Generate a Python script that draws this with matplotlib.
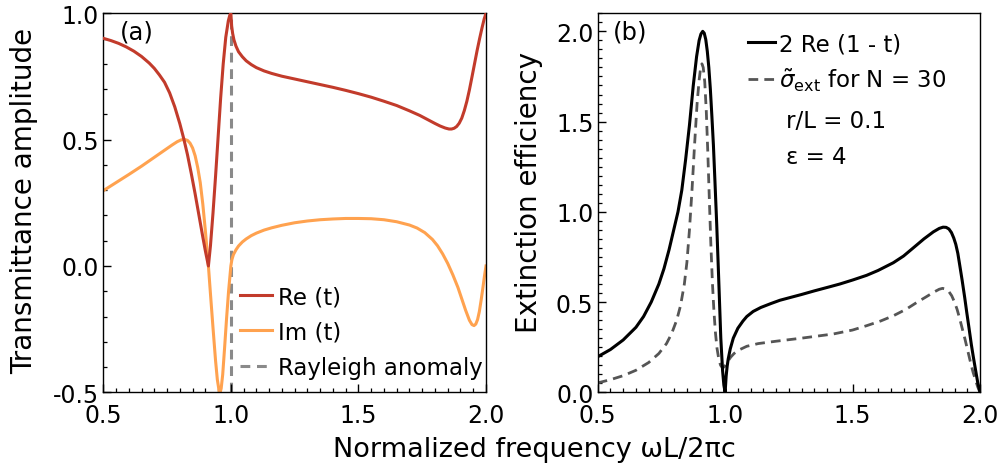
import matplotlib
matplotlib.use("Agg")
import matplotlib.pyplot as plt
from matplotlib.ticker import MultipleLocator

# ---------------- data ----------------
re_x = [0.50, 0.53, 0.56, 0.59, 0.62, 0.65, 0.68, 0.70, 0.72, 0.74, 0.76, 0.78, 0.80, 0.815,
        0.83, 0.845, 0.86, 0.875, 0.89, 0.90, 0.912,
        0.92, 0.93, 0.94, 0.95, 0.96, 0.97, 0.98, 0.99, 0.996, 1.0,
        1.003, 1.007, 1.012, 1.02, 1.03, 1.045, 1.06, 1.08, 1.10, 1.13, 1.16, 1.20, 1.25,
        1.30, 1.35, 1.40, 1.45, 1.50, 1.55, 1.60, 1.65, 1.70, 1.74, 1.77, 1.80, 1.82, 1.84,
        1.855, 1.865, 1.875, 1.885, 1.895, 1.905, 1.915, 1.925, 1.935, 1.945, 1.955, 1.965,
        1.975, 1.985, 1.993, 2.0]
re_y = [0.901, 0.892, 0.881, 0.867, 0.850, 0.829, 0.803, 0.782, 0.756, 0.727, 0.685, 0.630,
        0.563, 0.505, 0.44, 0.365, 0.285, 0.20, 0.115, 0.06, 0.0,
        0.08, 0.21, 0.355, 0.51, 0.665, 0.80, 0.905, 0.97, 0.993, 1.0,
        0.95, 0.92, 0.895, 0.87, 0.848, 0.828, 0.812, 0.797, 0.785, 0.772, 0.762, 0.751, 0.740,
        0.729, 0.718, 0.707, 0.695, 0.682, 0.668, 0.652, 0.635, 0.614, 0.596, 0.58, 0.564,
        0.554, 0.546, 0.542, 0.542, 0.545, 0.552, 0.565, 0.585, 0.615, 0.652, 0.697, 0.748,
        0.800, 0.852, 0.90, 0.945, 0.978, 1.0]

im_x = [0.50, 0.55, 0.60, 0.65, 0.70, 0.74, 0.77, 0.79, 0.805, 0.818, 0.83, 0.84, 0.85, 0.86,
        0.87, 0.88, 0.89, 0.90, 0.912, 0.92, 0.93, 0.94, 0.947, 0.954, 0.958, 0.962, 0.968,
        0.975, 0.983, 0.991, 1.0,
        1.004, 1.01, 1.02, 1.03, 1.045, 1.06, 1.08, 1.10, 1.13, 1.16, 1.20, 1.25, 1.30, 1.35,
        1.40, 1.45, 1.50, 1.55, 1.60, 1.65, 1.70, 1.73, 1.76, 1.79, 1.81, 1.83, 1.85, 1.87,
        1.89, 1.905, 1.92, 1.935, 1.945, 1.953, 1.96, 1.967, 1.974, 1.981, 1.988, 1.994, 2.0]
im_y = [0.298, 0.33, 0.362, 0.395, 0.43, 0.458, 0.479, 0.492, 0.499, 0.501, 0.497, 0.486,
        0.467, 0.436, 0.39, 0.33, 0.245, 0.14, 0.0, -0.11, -0.245, -0.375, -0.45, -0.495,
        -0.50, -0.485, -0.43, -0.33, -0.21, -0.10, 0.0,
        0.025, 0.045, 0.064, 0.079, 0.095, 0.107, 0.12, 0.13, 0.142, 0.151, 0.161, 0.171,
        0.178, 0.183, 0.186, 0.188, 0.188, 0.187, 0.183, 0.175, 0.162, 0.15, 0.132, 0.105,
        0.08, 0.048, 0.01, -0.035, -0.085, -0.13, -0.175, -0.215, -0.232, -0.236, -0.23,
        -0.212, -0.18, -0.135, -0.085, -0.04, 0.0]

ext_x = [0.50, 0.55, 0.60, 0.65, 0.68, 0.71, 0.74, 0.76, 0.78, 0.80, 0.815, 0.83, 0.845, 0.86,
         0.875, 0.888, 0.898, 0.905, 0.912, 0.918, 0.924, 0.93, 0.936, 0.942, 0.948, 0.954,
         0.96, 0.967, 0.975, 0.983, 0.99, 0.995, 1.0,
         1.004, 1.008, 1.012, 1.02, 1.032, 1.05, 1.07, 1.085, 1.11, 1.14, 1.18, 1.215, 1.26,
         1.30, 1.35, 1.411, 1.45, 1.50, 1.555, 1.60, 1.66, 1.70, 1.738, 1.78, 1.817, 1.84,
         1.855, 1.867, 1.878, 1.888, 1.897, 1.905, 1.913, 1.921, 1.93, 1.94, 1.948, 1.957,
         1.966, 1.973, 1.983, 1.991, 2.0]
ext_y = [0.197, 0.237, 0.29, 0.36, 0.42, 0.50, 0.60, 0.685, 0.79, 0.91, 1.0, 1.12, 1.29, 1.48,
         1.70, 1.86, 1.95, 1.985, 2.0, 1.99, 1.955, 1.89, 1.80, 1.68, 1.53, 1.37,
         1.17, 0.93, 0.62, 0.30, 0.12, 0.04, 0.0,
         0.09, 0.145, 0.184, 0.24, 0.30, 0.355, 0.395, 0.42, 0.448, 0.47, 0.492, 0.51, 0.527,
         0.542, 0.562, 0.585, 0.60, 0.622, 0.648, 0.675, 0.718, 0.755, 0.80, 0.85, 0.889, 0.908,
         0.915, 0.914, 0.905, 0.885, 0.855, 0.82, 0.77, 0.70, 0.62, 0.525, 0.443, 0.355,
         0.265, 0.203, 0.12, 0.055, 0.0]

sig_x = [0.50, 0.55, 0.60, 0.65, 0.70, 0.74, 0.77, 0.79, 0.81, 0.825, 0.84, 0.85, 0.86, 0.87,
         0.88, 0.89, 0.898, 0.904, 0.909, 0.914, 0.92, 0.926, 0.932, 0.938, 0.944, 0.95,
         0.956, 0.962, 0.968, 0.975, 0.982, 0.989, 0.996, 1.003, 1.012, 1.022, 1.035, 1.055,
         1.085, 1.13, 1.20, 1.30, 1.424, 1.50, 1.555, 1.61, 1.66, 1.71, 1.751, 1.79, 1.82,
         1.84, 1.853, 1.865, 1.877, 1.889, 1.90, 1.91, 1.92, 1.93, 1.941, 1.952, 1.963,
         1.973, 1.982, 1.991, 2.0]
sig_y = [0.052, 0.07, 0.092, 0.122, 0.165, 0.215, 0.27, 0.325, 0.40, 0.48, 0.60, 0.72, 0.90,
         1.12, 1.37, 1.60, 1.73, 1.80, 1.82, 1.80, 1.72, 1.56, 1.33, 1.07, 0.82, 0.61,
         0.45, 0.33, 0.245, 0.185, 0.15, 0.137, 0.14, 0.155, 0.175, 0.195, 0.215, 0.235,
         0.255, 0.27, 0.283, 0.30, 0.323, 0.345, 0.369, 0.395, 0.424, 0.46, 0.497, 0.53, 0.556,
         0.571, 0.576, 0.572, 0.56, 0.535, 0.50, 0.46, 0.41, 0.355, 0.295, 0.23, 0.165,
         0.11, 0.07, 0.03, 0.0]

# ---------------- figure ----------------
plt.rcParams['font.family'] = ['DejaVu Sans']
plt.rcParams['mathtext.fontset'] = 'dejavusans'
plt.rcParams['axes.unicode_minus'] = False

W, H = 1002, 464
fig = plt.figure(figsize=(W / 100, H / 100), dpi=100)

ax1 = fig.add_axes([103.3 / W, 1 - 393.3 / H, (486 - 103.3) / W, (393.3 - 14.3) / H])
ax2 = fig.add_axes([597.7 / W, 1 - 393.3 / H, (980 - 597.7) / W, (393.3 - 14.3) / H])

RED = '#c23b2b'
ORANGE = '#ffa24f'
GRAY = '#8a8a8a'
DGRAY = '#555555'
LEG_FS = 16.5

l_ra = ax1.axvline(1.0, color=GRAY, lw=2.2, ls=(0, (3.2, 2.2)), zorder=1,
                   label='Rayleigh anomaly')
l_re, = ax1.plot(re_x, re_y, color=RED, lw=2.2, zorder=3, label='Re (t)')
l_im, = ax1.plot(im_x, im_y, color=ORANGE, lw=2.2, zorder=2, label='Im (t)')

ax1.set_xlim(0.5, 2.0)
ax1.set_ylim(-0.5, 1.0)
ax1.xaxis.set_major_locator(MultipleLocator(0.5))
ax1.xaxis.set_minor_locator(MultipleLocator(0.05))
ax1.yaxis.set_major_locator(MultipleLocator(0.5))
ax1.yaxis.set_minor_locator(MultipleLocator(0.1))
ax1.set_ylabel('Transmittance amplitude', fontsize=20)
ax1.yaxis.set_label_coords((24 - 103.3) / 382.7, 0.507)
ax1.yaxis.label.set_verticalalignment('center')
ax1.text(0.044, 0.953, '(a)', transform=ax1.transAxes, fontsize=17.5, va='center', ha='left')
ax1.legend(handles=[l_re, l_im, l_ra], loc='lower right', bbox_to_anchor=(1.028, 0.0),
           frameon=False, fontsize=LEG_FS, handlelength=1.4, handletextpad=0.25,
           labelspacing=0.53, borderaxespad=0.2)

ax2.plot(ext_x, ext_y, color='black', lw=2.2, label='2 Re (1 - t)', zorder=3)
ax2.plot(sig_x, sig_y, color=DGRAY, lw=2.0, ls=(0, (3.5, 2.2)),
         label=r'$\tilde{\sigma}_{\mathrm{ext}}$ for N = 30', zorder=2)
ax2.set_xlim(0.5, 2.0)
ax2.set_ylim(0.0, 2.1)
ax2.xaxis.set_major_locator(MultipleLocator(0.5))
ax2.xaxis.set_minor_locator(MultipleLocator(0.05))
ax2.yaxis.set_major_locator(MultipleLocator(0.5))
ax2.yaxis.set_minor_locator(MultipleLocator(0.05))
ax2.set_ylabel('Extinction efficiency', fontsize=20)
ax2.yaxis.set_label_coords((529 - 597.7) / 382.3, 0.53)
ax2.yaxis.label.set_verticalalignment('center')
ax2.text(0.04, 0.953, '(b)', transform=ax2.transAxes, fontsize=17.5, va='center', ha='left')
ax2.legend(loc='upper left', bbox_to_anchor=((739 - 597.7) / 382.3, (393.3 - 24) / 379),
           frameon=False, fontsize=LEG_FS, handlelength=1.15, handletextpad=0.2,
           labelspacing=0.45, borderaxespad=0.0)
ax2.text((786 - 597.7) / (980 - 597.7), (393.3 - 121) / 379, 'r/L = 0.1',
         transform=ax2.transAxes, fontsize=LEG_FS, va='center', ha='left')
ax2.text((786 - 597.7) / (980 - 597.7), (393.3 - 157) / 379, 'ε = 4',
         transform=ax2.transAxes, fontsize=LEG_FS, va='center', ha='left')

for ax in (ax1, ax2):
    for s in ax.spines.values():
        s.set_linewidth(1.0)
    ax.tick_params(which='both', direction='in', top=False, right=False, labelsize=17)
    ax.tick_params(which='major', length=6, width=1.0)
    ax.tick_params(which='minor', length=3, width=0.9)
    ax.tick_params(axis='x', pad=8)
    ax.tick_params(axis='y', pad=3)

fig.text(534 / W, 1 - 457 / H, 'Normalized frequency ωL/2πc', fontsize=19.5,
         ha='center', va='baseline')

fig.savefig('out.png', dpi=100)
